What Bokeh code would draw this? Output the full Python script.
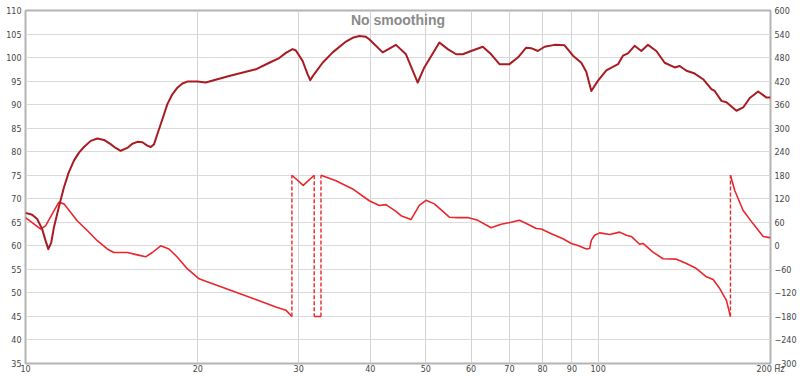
from bokeh.plotting import figure
from bokeh.models import Range1d, LinearAxis, FixedTicker, Label
from bokeh.embed import file_html
from bokeh.resources import INLINE

# ---- data ----
spl_freq = [10.0, 10.27, 10.48, 10.69, 10.84, 10.96, 11.09, 11.21, 11.36, 11.51,
            11.67, 11.90, 12.15, 12.40, 12.65, 13.00, 13.35, 13.71, 14.08, 14.37,
            14.66, 15.06, 15.37, 15.68, 16.00, 16.32, 16.55, 16.77, 16.99, 17.34,
            17.69, 18.05, 18.42, 18.79, 19.18, 19.97, 20.64,
            22.68, 25.25, 26.65, 27.74, 28.49, 29.27, 29.66, 30.47, 31.09, 31.42,
            31.93, 33.03, 34.39, 36.28, 37.27, 38.28, 39.31, 39.84, 42.05, 44.36,
            46.18, 48.41, 49.71, 52.82, 54.63, 56.49,
            58.03, 60.01, 62.90, 65.04, 67.25, 70.01, 72.42, 74.88, 76.40, 78.49,
            80.62, 83.94, 87.38, 90.39, 93.46, 95.35, 97.30, 99.96, 103.36, 108.34,
            110.5, 112.76, 115.8, 118.96, 122.21, 126.37, 130.67, 136.04, 138.82, 142.62,
            147.47, 152.53, 157.71, 159.82, 164.19, 167.52, 174.41, 179.17, 184.01, 190.33,
            196.8, 200.0]
spl_db = [67.0, 66.6, 65.7, 63.6, 61.1, 59.3, 60.7, 63.9, 66.8, 69.6,
          72.4, 75.6, 78.1, 79.8, 81.0, 82.3, 82.8, 82.5, 81.6, 80.8,
          80.2, 80.8, 81.7, 82.1, 82.0, 81.3, 81.0, 81.6, 83.7, 86.9,
          90.1, 92.2, 93.6, 94.5, 94.9, 94.9, 94.7,
          96.1, 97.5, 98.9, 99.9, 101.0, 101.8, 101.5, 99.3, 96.5, 95.2,
          96.5, 98.9, 101.1, 103.4, 104.2, 104.6, 104.4, 103.9, 101.1, 102.7,
          100.7, 94.7, 97.9, 103.2, 101.8, 100.7,
          100.7, 101.4, 102.3, 100.7, 98.6, 98.6, 100.0, 102.1, 102.0, 101.4,
          102.3, 102.7, 102.6, 100.4, 98.9, 97.0, 92.9, 95.1, 97.3, 98.6,
          100.4, 100.9, 102.5, 101.4, 102.7, 101.4, 98.9, 97.9, 98.2, 97.2,
          96.6, 95.4, 93.3, 92.9, 90.8, 90.5, 88.7, 89.4, 91.4, 92.8,
          91.5, 91.5]

# wrapped phase; a repeated frequency marks a wrap (drawn dashed)
phase_freq = [10.0, 10.34, 10.62, 10.84, 11.13, 11.43, 11.67, 12.31, 12.82, 13.35,
              13.89, 14.27, 15.06, 15.68, 16.21, 16.66, 17.22, 17.81, 18.42, 19.18,
              20.10, 20.64, 22.68, 25.25, 27.37, 28.49,
              29.19, 29.19, 30.55, 31.93, 31.93, 32.81, 32.81, 34.85, 37.27, 39.84,
              41.48, 42.61, 44.36, 45.26, 47.12, 48.72, 50.05, 51.76, 54.98, 56.88,
              59.21, 61.65, 65.04, 67.71, 70.49, 72.89, 75.39, 77.95, 79.56, 82.83,
              86.82, 89.77, 92.22, 95.35, 96.63, 97.30, 98.60, 100.6, 104.74, 109.05,
              111.99, 114.27, 118.15, 119.78, 124.7, 129.83, 136.98, 142.62, 148.48, 154.57,
              158.79, 163.07, 167.52, 170.25, 170.25, 173.22, 179.17, 186.54, 194.2, 199.4,
              200.0]
phase_deg = [72, 56, 43, 51, 81, 111, 107, 64, 39, 13,
             -8, -17, -17, -23, -28, -17, 0, -8, -29, -59,
             -84, -90, -112, -137, -156, -164,
             -180, 180, 154, 180, -180, -180, 180, 166, 145, 115,
             103, 105, 88, 77, 67, 103, 116, 107, 73, 72,
             72, 65, 46, 55, 60, 65, 55, 44, 43, 31,
             18, 6, 1, -8, -7, 14, 27, 33, 29, 35,
             27, 24, 4, 6, -16, -33, -34, -45, -58, -79,
             -86, -109, -139, -180, 180, 141, 90, 56, 24, 21,
             21]

x_ticks = [10, 20, 30, 40, 50, 60, 70, 80, 90, 100, 200]
db_ticks = list(range(35, 111, 5))
deg_ticks = list(range(-300, 601, 60))

SPL_COLOR = "#a81b21"
PHASE_COLOR = "#e8262b"
FONT = "DejaVu Sans"

p = figure(width=800, height=376, x_axis_type="log",
           x_range=Range1d(x_ticks[0], x_ticks[-1]),
           y_range=Range1d(db_ticks[0], db_ticks[-1]),
           output_backend="svg", toolbar_location=None,
           min_border_left=25, min_border_right=30,
           min_border_top=10, min_border_bottom=13)
p.extra_y_ranges = {"deg": Range1d(deg_ticks[0], deg_ticks[-1])}

p.background_fill_color = "white"
p.border_fill_color = "white"
p.outline_line_color = "#b4b4b4"
p.outline_line_width = 2

p.xaxis.ticker = FixedTicker(ticks=x_ticks)
p.xaxis.major_label_overrides = {200: "200 Hz"}
p.yaxis.ticker = FixedTicker(ticks=db_ticks)

right = LinearAxis(y_range_name="deg", ticker=FixedTicker(ticks=deg_ticks))
p.add_layout(right, "right")

for ax in [p.xaxis[0], p.yaxis[0], right]:
    ax.axis_line_color = None
    ax.major_tick_line_color = None
    ax.minor_tick_line_color = None
    ax.major_tick_out = 0
    ax.major_tick_in = 0
    ax.minor_tick_out = 0
    ax.minor_tick_in = 0
    ax.major_label_text_font = FONT
    ax.major_label_text_font_size = "8px"
    ax.major_label_text_color = "#444444"
p.xaxis.major_label_standoff = 1
p.yaxis.major_label_standoff = 4
right.major_label_standoff = 4

p.xgrid.grid_line_color = "#d2d2d2"
p.ygrid.grid_line_color = "#dadada"
p.xgrid.grid_line_width = 1
p.ygrid.grid_line_width = 1

# phase: split at wraps
xs, ys = [], []
jx0, jy0, jx1, jy1 = [], [], [], []
cx, cy = [phase_freq[0]], [phase_deg[0]]
for i in range(1, len(phase_freq)):
    if phase_freq[i] == phase_freq[i - 1]:
        jx0.append(phase_freq[i - 1]); jy0.append(phase_deg[i - 1])
        jx1.append(phase_freq[i]); jy1.append(phase_deg[i])
        xs.append(cx); ys.append(cy)
        cx, cy = [phase_freq[i]], [phase_deg[i]]
    else:
        cx.append(phase_freq[i]); cy.append(phase_deg[i])
xs.append(cx); ys.append(cy)

p.segment(jx0, jy0, jx1, jy1, y_range_name="deg", line_color=PHASE_COLOR,
          line_width=1.4, line_dash="4 2")
p.multi_line(xs, ys, y_range_name="deg", line_color=PHASE_COLOR,
             line_width=1.6, line_join="round")
p.line(spl_freq, spl_db, line_color=SPL_COLOR, line_width=2, line_join="round")

xmid = (x_ticks[0] * x_ticks[-1]) ** 0.5
p.add_layout(Label(x=xmid, y=db_ticks[-1], y_offset=-1, text="No smoothing",
                   text_align="center", text_baseline="top", text_font="Liberation Sans",
                   text_font_style="bold", text_font_size="14px", text_color="#8a8a8a"))
p.add_layout(Label(x=x_ticks[0], y=db_ticks[-1], x_offset=-4, y_offset=2, text="dB",
                   text_align="right", text_baseline="bottom", text_font=FONT,
                   text_font_size="8px", text_color="#444444"))
p.add_layout(Label(x=x_ticks[-1], y=db_ticks[-1], x_offset=-1, y_offset=2, text="deg",
                   text_align="left", text_baseline="bottom", text_font=FONT,
                   text_font_size="8px", text_color="#444444"))

open("out.html", "w").write(file_html(p, INLINE))
